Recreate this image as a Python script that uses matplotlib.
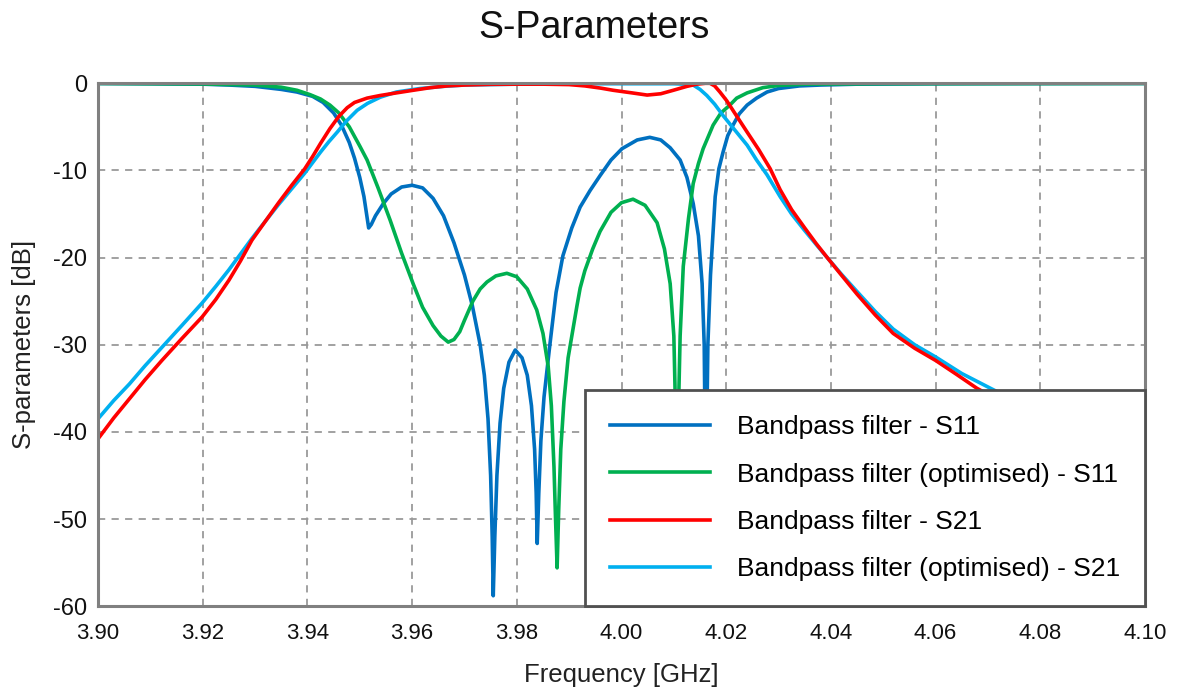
import matplotlib
matplotlib.use("Agg")
import matplotlib.pyplot as plt

plt.rcParams['font.family'] = ['Liberation Sans', 'DejaVu Sans']
plt.rcParams['axes.unicode_minus'] = False

# Bandpass filter - S11 (freq in GHz, dB)
f_s11 = [3.900, 3.910, 3.920, 3.925, 3.930, 3.935, 3.938, 3.941, 3.943, 3.945,
         3.9465, 3.948, 3.949, 3.950, 3.9508, 3.9513, 3.9517, 3.9522, 3.953, 3.9545,
         3.956, 3.958, 3.960, 3.962, 3.964, 3.966, 3.968, 3.970, 3.9715, 3.973,
         3.9738, 3.9745, 3.975, 3.9753, 3.9755, 3.9758, 3.9762, 3.9768, 3.9775, 3.9785,
         3.9797, 3.981, 3.982, 3.9828, 3.9834, 3.9837, 3.9839, 3.9842, 3.9846, 3.9852,
         3.9862, 3.9875, 3.9888, 3.9905, 3.9921, 3.994, 3.9959, 3.998, 4.0001, 4.003,
         4.0054, 4.0075, 4.0093, 4.0112, 4.0125, 4.0137, 4.0147, 4.0154, 4.0158, 4.0161,
         4.0165, 4.017, 4.0179, 4.0186, 4.0194, 4.0203, 4.0213, 4.0225, 4.024, 4.0258,
         4.0278, 4.030, 4.034, 4.038, 4.045, 4.060, 4.080, 4.100]
db_s11 = [-0.02, -0.05, -0.1, -0.2, -0.35, -0.7, -1.0, -1.5, -2.2, -3.4,
          -4.8, -6.8, -8.6, -10.8, -13.0, -15.0, -16.6, -16.2, -15.2, -13.8,
          -12.7, -11.9, -11.7, -12.0, -13.2, -15.2, -18.3, -22.0, -25.5, -30.0,
          -33.5, -38.5, -45.0, -52.0, -58.8, -52.0, -45.0, -39.0, -35.0, -32.0,
          -30.6, -31.5, -33.5, -37.0, -42.0, -47.0, -52.8, -47.0, -41.0, -36.0,
          -30.6, -24.0, -19.8, -16.6, -14.2, -12.3, -10.6, -8.8, -7.5, -6.5,
          -6.2, -6.5, -7.4, -8.8, -10.8, -13.8, -17.5, -23.0, -30.0, -48.0,
          -30.0, -22.0, -13.0, -9.8, -7.9, -6.0, -4.8, -3.5, -2.5, -1.7,
          -1.0, -0.6, -0.3, -0.2, -0.1, -0.05, -0.03, -0.02]

# Bandpass filter (optimised) - S11
f_s11o = [3.900, 3.920, 3.930, 3.935, 3.938, 3.9405, 3.9425, 3.9443, 3.946, 3.948,
          3.950, 3.9514, 3.9535, 3.9558, 3.958, 3.9602, 3.962, 3.964, 3.9655, 3.9669,
          3.968, 3.9691, 3.970, 3.9716, 3.973, 3.9743, 3.976, 3.9781, 3.980, 3.982,
          3.9838, 3.985, 3.986, 3.9866, 3.9871, 3.9874, 3.9877, 3.988, 3.9884, 3.989,
          3.9898, 3.9915, 3.9921, 3.993, 3.9945, 3.9959, 3.998, 4.000, 4.0022, 4.0045,
          4.0068, 4.0082, 4.0093, 4.0100, 4.0106, 4.0112, 4.0118, 4.0128, 4.0137, 4.0147,
          4.0156, 4.0175, 4.019, 4.0207, 4.022, 4.024, 4.027, 4.030, 4.035, 4.050,
          4.100]
db_s11o = [-0.02, -0.08, -0.2, -0.45, -0.8, -1.3, -1.8, -2.5, -3.4, -5.0,
           -7.2, -8.8, -12.0, -15.7, -19.5, -23.0, -25.7, -27.8, -29.0, -29.7,
           -29.4, -28.5, -27.2, -25.0, -23.6, -22.8, -22.1, -21.8, -22.2, -23.6,
           -26.0, -28.7, -32.5, -37.0, -44.0, -50.0, -55.6, -49.0, -42.0, -36.5,
           -31.5, -25.5, -23.5, -21.5, -19.0, -17.0, -14.8, -13.7, -13.3, -14.0,
           -16.0, -19.0, -23.0, -29.0, -45.0, -29.0, -21.0, -15.5, -11.5, -9.2,
           -7.5, -4.8, -3.4, -2.5, -1.7, -1.1, -0.5, -0.25, -0.1, -0.05,
           -0.02]

# Bandpass filter - S21
f_s21 = [3.900, 3.903, 3.906, 3.909, 3.9122, 3.916, 3.9199, 3.9225, 3.925, 3.9272,
         3.9294, 3.932, 3.9345, 3.937, 3.9395, 3.941, 3.9425, 3.9443, 3.946, 3.9476,
         3.949, 3.9514, 3.9539, 3.957, 3.9602, 3.9635, 3.9667, 3.970, 3.975, 3.980,
         3.985, 3.990, 3.993, 3.996, 3.9984, 4.002, 4.0049, 4.0075, 4.0099, 4.0125,
         4.0144, 4.0160, 4.0169, 4.0178, 4.0188, 4.0201, 4.0215, 4.024, 4.0262, 4.0284,
         4.0303, 4.0325, 4.035, 4.0372, 4.0393, 4.042, 4.045, 4.0485, 4.0519, 4.056,
         4.060, 4.064, 4.0679, 4.074, 4.080, 4.090, 4.100]
db_s21 = [-40.8, -38.4, -36.2, -34.0, -31.8, -29.3, -26.8, -24.8, -22.6, -20.4,
          -18.0, -15.8, -13.7, -11.7, -9.8, -8.4, -6.9, -5.2, -3.8, -2.8,
          -2.2, -1.7, -1.4, -1.1, -0.8, -0.5, -0.3, -0.2, -0.12, -0.1,
          -0.1, -0.15, -0.3, -0.55, -0.8, -1.1, -1.35, -1.2, -0.8, -0.35,
          -0.1, 0.0, 0.0, -0.3, -1.0, -2.0, -3.3, -5.6, -7.6, -9.8,
          -12.2, -14.5, -16.6, -18.4, -20.0, -22.0, -24.2, -26.6, -28.7, -30.4,
          -31.8, -33.4, -35.0, -37.0, -38.8, -41.6, -44.2]

# Bandpass filter (optimised) - S21
f_s21o = [3.900, 3.903, 3.906, 3.909, 3.9122, 3.916, 3.9199, 3.9225, 3.925, 3.9272,
          3.9294, 3.932, 3.9345, 3.937, 3.9395, 3.941, 3.9425, 3.9441, 3.9457, 3.9475,
          3.9495, 3.9515, 3.9539, 3.957, 3.9615, 3.966, 3.970, 3.980, 3.990, 4.000,
          4.010, 4.012, 4.0137, 4.015, 4.0163, 4.0178, 4.0194, 4.0217, 4.024, 4.0258,
          4.0278, 4.0303, 4.0325, 4.035, 4.0372, 4.0393, 4.042, 4.045, 4.0485, 4.0519,
          4.056, 4.060, 4.065, 4.0705, 4.080, 4.090, 4.100]
db_s21o = [-38.5, -36.4, -34.5, -32.4, -30.3, -27.8, -25.2, -23.3, -21.4, -19.6,
           -17.8, -15.8, -13.9, -12.1, -10.3, -9.1, -7.9, -6.7, -5.6, -4.3,
           -3.1, -2.3, -1.6, -1.0, -0.6, -0.35, -0.2, -0.1, -0.05, -0.05,
           -0.05, -0.1, -0.2, -0.7, -1.4, -2.4, -3.7, -5.4, -7.1, -8.8,
           -10.5, -13.0, -15.0, -16.9, -18.5, -20.0, -21.9, -23.9, -26.2, -28.2,
           -30.0, -31.4, -33.3, -35.0, -37.9, -40.5, -43.0]

labels = ['Bandpass filter - S11', 'Bandpass filter (optimised) - S11',
          'Bandpass filter - S21', 'Bandpass filter (optimised) - S21']
colors = ['#0070C0', '#00B050', '#FF0000', '#00B0F0']

fig = plt.figure(figsize=(11.81, 7.0), dpi=100)
ax = fig.add_axes([0.083, 0.134, 0.8865, 0.747])

l1, = ax.plot(f_s11, db_s11, color=colors[0], lw=2.6, zorder=3)
l2, = ax.plot(f_s11o, db_s11o, color=colors[1], lw=2.6, zorder=4)
l4, = ax.plot(f_s21o, db_s21o, color=colors[3], lw=2.6, zorder=5)
l3, = ax.plot(f_s21, db_s21, color=colors[2], lw=2.6, zorder=6)

ax.set_xlim(3.90, 4.10)
ax.set_ylim(-60, 0)
ax.set_xticks([3.90 + 0.02 * i for i in range(11)])
ax.set_xticklabels(['%.2f' % (3.90 + 0.02 * i) for i in range(11)])
ax.set_yticks(range(-60, 1, 10))
ax.tick_params(axis='both', length=0, colors='#111111')
ax.tick_params(axis='x', pad=12, labelsize=16)
ax.tick_params(axis='y', pad=8, labelsize=17)

ax.grid(True, color='#9a9a9a', linestyle=(0, (4, 3.5)), linewidth=1.3)
ax.set_axisbelow(True)
for s in ax.spines.values():
    s.set_color('#808080')
    s.set_linewidth(2.2)
    s.set_zorder(10)

fig.text(0.503, 1 - 28 / 700, 'S-Parameters', fontsize=27, ha='center',
         va='center', color='#111111')
ax.set_xlabel('Frequency [GHz]', fontsize=18.5, labelpad=14, color='#222222')
ax.set_ylabel('S-parameters [dB]', fontsize=18.5, labelpad=12, color='#222222')

leg = ax.legend([l1, l2, l3, l4], labels, loc='lower right', fontsize=19,
                handlelength=3.8, handletextpad=1.0, labelspacing=0.88,
                borderpad=0.95, borderaxespad=0, fancybox=False, framealpha=1,
                edgecolor='#505050')
leg.get_frame().set_linewidth(2.0)
leg.set_zorder(20)

fig.savefig('out.png', dpi=100)
